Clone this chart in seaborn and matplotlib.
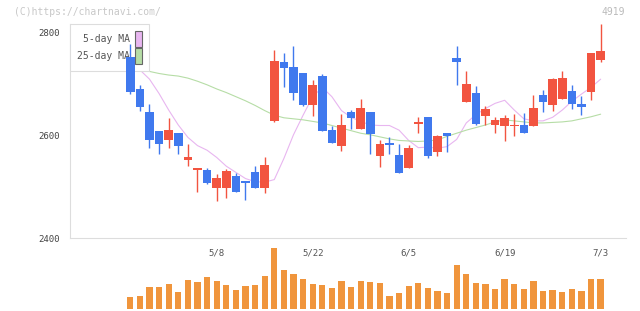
import numpy as np
import matplotlib
matplotlib.use("Agg")
import matplotlib.pyplot as plt
from matplotlib.patches import Patch
import seaborn as sns

# ---------------- data ----------------
day_index = list(range(50))
opens = [2752, 2690, 2645, 2608, 2590, 2604, 2553, 2533, 2533, 2498,
         2498, 2521, 2511, 2529, 2498, 2628, 2742, 2733, 2721, 2658,
         2715, 2610, 2580, 2645, 2613, 2645, 2560, 2585, 2562, 2537,
         2621, 2636, 2568, 2604, 2750, 2665, 2682, 2637, 2620, 2618,
         2618, 2620, 2618, 2678, 2659, 2670, 2686, 2661, 2684, 2746]
highs = [2777, 2698, 2661, 2609, 2634, 2605, 2583, 2537, 2537, 2525,
         2535, 2527, 2511, 2540, 2558, 2766, 2760, 2773, 2721, 2707,
         2719, 2618, 2641, 2649, 2670, 2645, 2591, 2597, 2583, 2581,
         2636, 2636, 2601, 2604, 2773, 2725, 2696, 2657, 2636, 2639,
         2641, 2643, 2678, 2688, 2711, 2725, 2698, 2676, 2760, 2816]
lows = [2681, 2648, 2576, 2564, 2576, 2564, 2541, 2490, 2505, 2472,
        2479, 2489, 2475, 2498, 2488, 2626, 2694, 2669, 2656, 2638,
        2609, 2586, 2570, 2613, 2613, 2564, 2539, 2564, 2527, 2537,
        2605, 2555, 2559, 2568, 2698, 2665, 2620, 2620, 2604, 2589,
        2599, 2604, 2618, 2645, 2647, 2670, 2651, 2639, 2669, 2742]
closes = [2685, 2654, 2590, 2584, 2610, 2580, 2557, 2537, 2507, 2517,
          2531, 2489, 2507, 2498, 2542, 2744, 2731, 2683, 2658, 2698,
          2609, 2586, 2620, 2634, 2653, 2603, 2583, 2581, 2527, 2575,
          2626, 2559, 2599, 2599, 2742, 2700, 2622, 2651, 2630, 2634,
          2620, 2604, 2653, 2665, 2709, 2711, 2661, 2655, 2760, 2764]
ma5 = [2742, 2727, 2709, 2681, 2649, 2620, 2596, 2580, 2571, 2557,
       2540, 2528, 2516, 2510, 2509, 2514, 2555, 2601, 2639, 2675,
       2693, 2675, 2648, 2635, 2627, 2620, 2619, 2619, 2610, 2590,
       2576, 2577, 2575, 2578, 2592, 2624, 2640, 2652, 2662, 2668,
       2649, 2632, 2628, 2628, 2635, 2649, 2666, 2680, 2693, 2709]
ma25 = [2728, 2726, 2724, 2720, 2717, 2715, 2711, 2705, 2698, 2690,
        2683, 2675, 2667, 2658, 2648, 2639, 2634, 2632, 2630, 2627,
        2624, 2619, 2614, 2609, 2604, 2601, 2597, 2593, 2590, 2589,
        2588, 2589, 2591, 2598, 2604, 2610, 2615, 2620, 2626, 2630,
        2628, 2626, 2624, 2624, 2625, 2626, 2628, 2632, 2636, 2641]
volume = [120, 130, 220, 220, 250, 170, 290, 270, 320, 280,
          240, 190, 230, 240, 330, 610, 390, 350, 300, 250,
          240, 210, 280, 220, 280, 270, 260, 130, 160, 230,
          260, 210, 180, 160, 440, 350, 260, 250, 200, 300,
          250, 200, 280, 180, 190, 170, 200, 180, 300, 300]
date_ticks = [9, 19, 29, 39, 49]
date_labels = ["5/8", "5/22", "6/5", "6/19", "7/3"]
y_ticks = [2400, 2600, 2800]
legend_labels = ["5-day MA", "25-day MA"]
title_left = "(C)https://chartnavi.com/"
title_right = "4919"

# ---------------- style ----------------
UP = "#F25440"
DOWN = "#4079EE"
VOL = "#F0953C"
PINK = "#E8B6F0"
GREEN = "#B6DDA6"
AXC = "#dddddd"
MONO = ["DejaVu Sans Mono"]

sns.set_style("white")
plt.rcParams["font.family"] = MONO

fig = plt.figure(figsize=(6.4, 3.11), dpi=100)
fig.patch.set_facecolor("white")

W, H = 640.0, 311.0
x_left, x_right = 70.3, 626.0
ax = fig.add_axes([x_left / W, (H - 238.3) / H, (x_right - x_left) / W, (238.3 - 24.0) / H])
axv = fig.add_axes([x_left / W, (H - 309.0) / H, (x_right - x_left) / W, 65.0 / H])

x = np.array(day_index)
xmin, xmax = -6.25, 51.64

# moving averages (below candles and legend)
sns.lineplot(x=x, y=ma5, color=PINK, linewidth=0.8, ax=ax, legend=False, zorder=1)
sns.lineplot(x=x, y=ma25, color=GREEN, linewidth=0.8, ax=ax, legend=False, zorder=1)

# candles
o = np.array(opens, dtype=float)
c = np.array(closes, dtype=float)
colors = np.where(c >= o, UP, DOWN)
ax.vlines(x, lows, highs, colors=colors, linewidth=1.0, zorder=3)
body_bottom = np.minimum(o, c)
body_h = np.maximum(np.abs(c - o), 2.0)
ax.bar(x, body_h, bottom=body_bottom, width=0.9, color=colors, linewidth=0, zorder=4)

ax.set_xlim(xmin, xmax)
ax.set_ylim(2400, 2816.1)
ax.set_xlabel("")
ax.set_ylabel("")
for s in ["top", "right"]:
    ax.spines[s].set_visible(False)
for s in ["left", "bottom"]:
    ax.spines[s].set_color(AXC)
    ax.spines[s].set_linewidth(0.8)

ax.set_yticks(y_ticks)
ax.set_yticklabels([str(v) for v in y_ticks])
ax.tick_params(axis="y", direction="inout", length=6, width=0.8, color=AXC,
               pad=4.9, labelsize=6.5, labelcolor="#444444")
ax.set_xticks(date_ticks)
ax.set_xticklabels(date_labels)
ax.set_xticks(np.linspace(xmin, xmax, 11)[1:], minor=True)
ax.tick_params(axis="x", which="major", length=0, pad=7.5, labelsize=6.5,
               labelcolor="#555555")
ax.tick_params(axis="x", which="minor", direction="inout", length=6.5, width=0.8,
               color=AXC)
ax.set_facecolor("none")

handles = [Patch(facecolor=PINK, edgecolor="#666666", linewidth=0.8, label=legend_labels[0]),
           Patch(facecolor=GREEN, edgecolor="#666666", linewidth=0.8, label=legend_labels[1])]
leg = ax.legend(handles=handles, loc="upper left", bbox_to_anchor=(0, 1), borderaxespad=0,
                markerfirst=False, handlelength=0.69, handleheight=2.11, handletextpad=0.55,
                borderpad=0.7, labelspacing=0.16, frameon=True, fancybox=False,
                edgecolor=AXC, framealpha=1, facecolor="white",
                prop={"family": MONO, "size": 7})
leg.get_frame().set_linewidth(0.8)
for t in leg.get_texts():
    t.set_color("#555555")
leg.set_zorder(2.5)

# volume
sns.barplot(x=x, y=volume, native_scale=True, color=VOL, saturation=1, width=0.66,
            linewidth=0, errorbar=None, ax=axv)
axv.set_xlim(xmin, xmax)
axv.set_ylim(0, 650)
axv.axis("off")

fig.text(14 / W, 1 - 12 / H, title_left, ha="left", va="center", fontsize=7,
         color="#c8c8c8", family=MONO)
fig.text(625 / W, 1 - 12 / H, title_right, ha="right", va="center", fontsize=7,
         color="#bbbbbb", family=MONO)

fig.savefig("out.png", dpi=100)
